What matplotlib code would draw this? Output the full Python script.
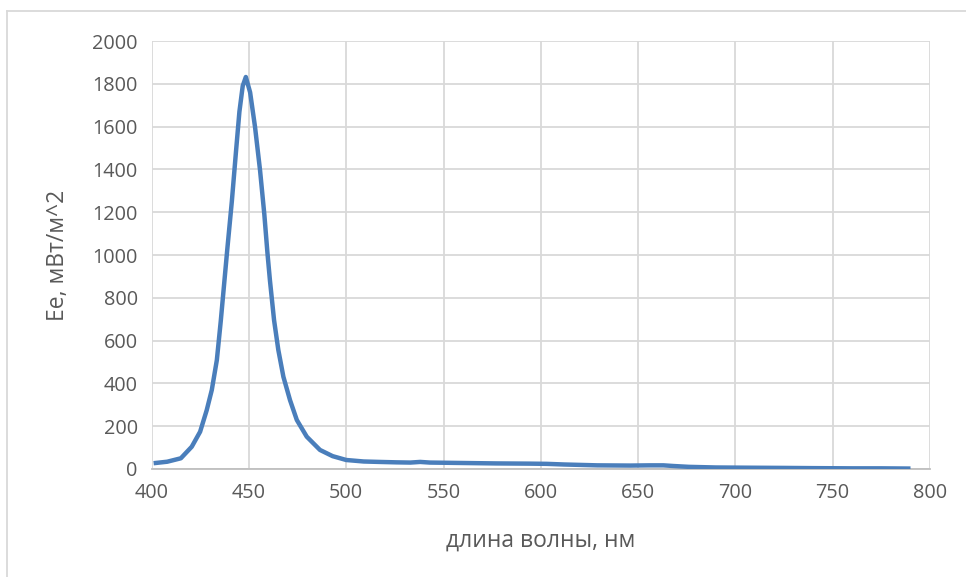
import matplotlib
matplotlib.use('Agg')

import matplotlib.pyplot as plt
from matplotlib.lines import Line2D

plt.rcParams['font.family'] = ['Open Sans', 'DejaVu Sans']

# спектр: длина волны (нм) и облучённость (мВт/м^2)
wavelength = [401, 408, 415, 420.6, 424.9, 428.3, 430.9, 433.5, 435.5, 437.2,
              438.9, 441.2, 443.4, 445.1, 446.8, 448.4, 450.6, 453.1, 455.7,
              457.9, 459.5, 460.8, 462.9, 465.1, 467.7, 471.1, 474.6, 479.7,
              486.5, 493, 500, 509, 517, 526, 533, 538, 543, 560, 577, 594,
              603, 612, 629, 646, 656, 663, 668, 676, 690, 706, 725, 740, 760,
              775, 790]
irradiance = [27, 34, 50, 104, 174, 275, 369, 509, 690, 860,
              1030, 1250, 1490, 1670, 1790, 1832, 1760, 1600, 1396,
              1190, 1010, 880, 696, 556, 431, 322, 229, 151,
              89, 60, 42, 35, 33, 31, 30, 33, 30, 28, 26, 25,
              24, 21, 17, 16, 17, 17, 14, 10, 7, 6, 5, 4, 3,
              3, 2]

x_ticks = [400, 450, 500, 550, 600, 650, 700, 750, 800]
y_ticks = [0, 200, 400, 600, 800, 1000, 1200, 1400, 1600, 1800, 2000]

fig = plt.figure(figsize=(9.66, 5.77), dpi=100)
ax = fig.add_axes([0.157, 0.1872, 0.8057, 0.7417])

ax.plot(wavelength, irradiance, color='#4A7EBB', linewidth=3.2,
        solid_capstyle='butt', solid_joinstyle='round', zorder=3)

ax.set_xlim(400, 800)
ax.set_ylim(0, 2000)
ax.set_xticks(x_ticks)
ax.set_yticks(y_ticks)

ax.grid(True, color='#D9D9D9', linewidth=1.3)
ax.set_axisbelow(True)
for side in ['top', 'right', 'left']:
    ax.spines[side].set_visible(False)
ax.spines['bottom'].set_color('#BFBFBF')
ax.spines['bottom'].set_linewidth(1.3)
ax.tick_params(length=0, labelsize=14.3, labelcolor='#595959', pad=10)

ax.set_xlabel('длина волны, нм', fontsize=16.5, color='#595959', va='center')
ax.set_ylabel('Ee, мВт/м^2', fontsize=16.5, color='#595959', va='center')
ax.xaxis.set_label_coords(0.5, -0.168)
ax.yaxis.set_label_coords(-0.120, 0.5)

# рамка области диаграммы
fig.add_artist(Line2D([7 / 966, 7 / 966], [0, 1 - 11 / 577],
                      transform=fig.transFigure, color='#D9D9D9', linewidth=1.3))
fig.add_artist(Line2D([7 / 966, 1], [1 - 11 / 577, 1 - 11 / 577],
                      transform=fig.transFigure, color='#D9D9D9', linewidth=1.3))

fig.savefig('out.png', dpi=100)
